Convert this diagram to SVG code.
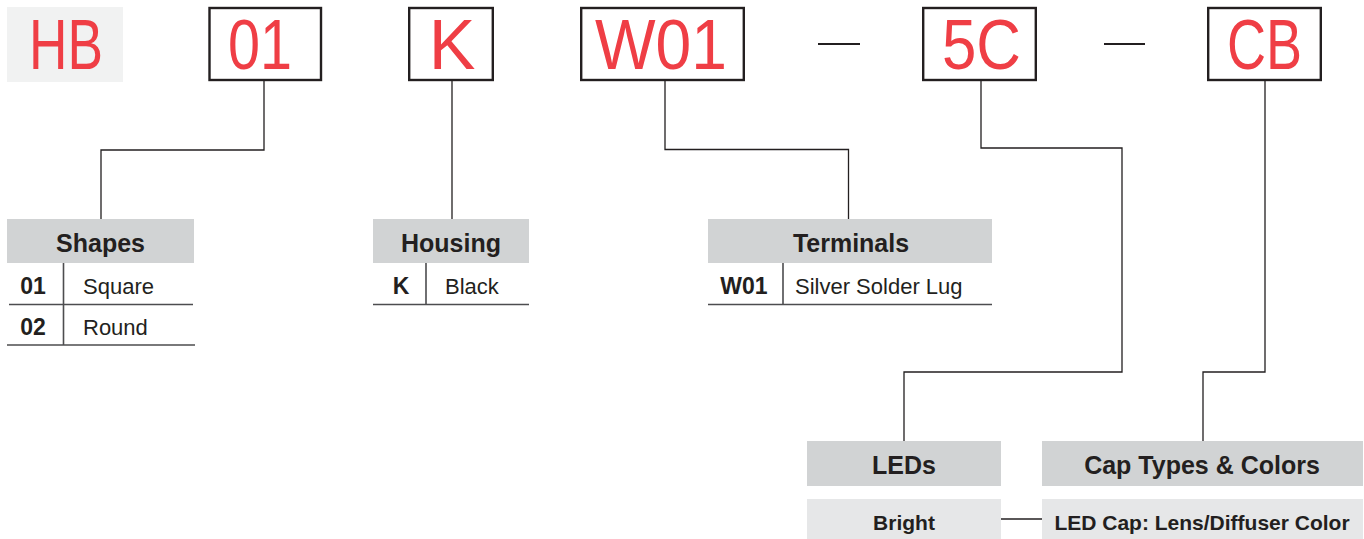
<svg xmlns="http://www.w3.org/2000/svg" width="1364" height="539" viewBox="0 0 1364 539">
<style>
.big{font-family:"Liberation Sans",Arial,sans-serif;font-size:70px;fill:#ef3e45}
.box{fill:#fff;stroke:#231f20;stroke-width:2.4}
.hdr{fill:#d1d3d4}
.lt{fill:#e6e7e8}
.ht{font-family:"Liberation Sans",Arial,sans-serif;font-weight:bold;font-size:25px;fill:#231f20;text-anchor:middle}
.code{font-family:"Liberation Sans",Arial,sans-serif;font-weight:bold;font-size:23px;fill:#231f20;text-anchor:middle}
.val{font-family:"Liberation Sans",Arial,sans-serif;font-size:22px;fill:#231f20}
.sub{font-family:"Liberation Sans",Arial,sans-serif;font-weight:bold;font-size:21px;fill:#231f20;text-anchor:middle}
.conn{fill:none;stroke:#231f20;stroke-width:1.3}
.tl{fill:none;stroke:#4d4d4f;stroke-width:1.6}
</style>
<rect width="1364" height="539" fill="#fff"/>
<g id="code">
  <g id="hb"><rect x="7" y="7" width="116" height="75" fill="#f1f2f2"/><text class="big" x="29" y="69" textLength="74" lengthAdjust="spacingAndGlyphs">HB</text></g>
  <g id="c01"><rect class="box" x="209.5" y="8" width="111.5" height="72"/><text class="big" x="228" y="69" textLength="64" lengthAdjust="spacingAndGlyphs">01</text></g>
  <g id="cK"><rect class="box" x="409.2" y="8" width="83.6" height="72"/><text class="big" x="452" y="69" text-anchor="middle">K</text></g>
  <g id="cW01"><rect class="box" x="581.2" y="8" width="162.6" height="72"/><text class="big" x="595" y="69" textLength="132" lengthAdjust="spacingAndGlyphs">W01</text></g>
  <g id="dash1"><line x1="818" y1="44" x2="860" y2="44" stroke="#231f20" stroke-width="2"/></g>
  <g id="c5C"><rect class="box" x="923.2" y="8" width="112.6" height="72"/><text class="big" x="942" y="69" textLength="79" lengthAdjust="spacingAndGlyphs">5C</text></g>
  <g id="dash2"><line x1="1104" y1="44" x2="1145" y2="44" stroke="#231f20" stroke-width="2"/></g>
  <g id="cCB"><rect class="box" x="1208.2" y="8" width="112.6" height="72"/><text class="big" x="1227" y="69" textLength="75" lengthAdjust="spacingAndGlyphs">CB</text></g>
</g>
<g id="connectors">
  <path class="conn" d="M264,81 V150 H101 V219"/>
  <path class="conn" d="M452,81 V219"/>
  <path class="conn" d="M665,81 V149.5 H848.5 V219"/>
  <path class="conn" d="M981,81 V148 H1122 V372 H904 V441"/>
  <path class="conn" d="M1265,81 V372 H1203 V441"/>
  <path class="conn" d="M1001,519 H1042"/>
</g>
<g id="shapes">
  <rect class="hdr" x="7" y="219" width="187" height="44"/>
  <text class="ht" x="100.5" y="252">Shapes</text>
  <path class="tl" d="M63.5,263 V345 M9,304.5 H193 M7,345 H195"/>
  <text class="code" x="33" y="294">01</text><text class="val" x="83" y="294">Square</text>
  <text class="code" x="33" y="335">02</text><text class="val" x="83" y="335">Round</text>
</g>
<g id="housing">
  <rect class="hdr" x="373" y="219" width="156" height="44"/>
  <text class="ht" x="451" y="252">Housing</text>
  <path class="tl" d="M426,263 V304 M373,304.5 H529"/>
  <text class="code" x="401" y="294">K</text><text class="val" x="445" y="294">Black</text>
</g>
<g id="terminals">
  <rect class="hdr" x="708" y="219" width="284" height="44"/>
  <text class="ht" x="851" y="252">Terminals</text>
  <path class="tl" d="M783,263 V304 M708,304.5 H992"/>
  <text class="code" x="744" y="294">W01</text><text class="val" x="795" y="294">Silver Solder Lug</text>
</g>
<g id="leds">
  <rect class="hdr" x="807" y="441" width="194" height="45"/>
  <text class="ht" x="904" y="474">LEDs</text>
  <rect class="lt" x="807" y="499" width="194" height="40"/>
  <text class="sub" x="904" y="530">Bright</text>
</g>
<g id="caps">
  <rect class="hdr" x="1042" y="441" width="321" height="45"/>
  <text class="ht" x="1202" y="474">Cap Types &amp; Colors</text>
  <rect class="lt" x="1042" y="499" width="321" height="40"/>
  <text class="sub" x="1202" y="530">LED Cap: Lens/Diffuser Color</text>
</g>
</svg>
